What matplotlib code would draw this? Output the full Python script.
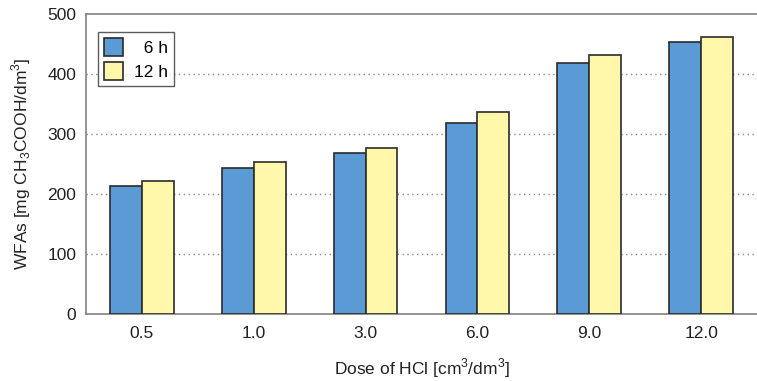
import matplotlib
matplotlib.use('Agg')
import matplotlib.pyplot as plt
import numpy as np

plt.rcParams['font.family'] = ['Liberation Sans', 'DejaVu Sans']
plt.rcParams['mathtext.fontset'] = 'custom'
plt.rcParams['mathtext.rm'] = 'Liberation Sans'

doses = ['0.5', '1.0', '3.0', '6.0', '9.0', '12.0']
wfa_6h = [213, 243, 269, 319, 418, 454]
wfa_12h = [222, 254, 276, 337, 431, 461]

fig = plt.figure(figsize=(7.57, 3.81), dpi=100)
ax = fig.add_axes([86/757, 67/381, 671/757, 300/381])

x = np.arange(len(doses))
w = 0.285
ax.bar(x - w/2, wfa_6h, w, color='#5b9bd5', edgecolor='#2b2b2b', linewidth=1.2, label='  6 h', zorder=3)
ax.bar(x + w/2, wfa_12h, w, color='#fff8ab', edgecolor='#2b2b2b', linewidth=1.2, label='12 h', zorder=3)

ax.set_xlim(-0.5, 5.5)
ax.set_ylim(0, 500)
ax.set_yticks([0, 100, 200, 300, 400, 500])
ax.set_xticks(x)
ax.set_xticklabels(doses)
ax.tick_params(length=0, labelsize=12.5, colors='#222222', pad=7)
ax.tick_params(axis='x', pad=9)

for y in [100, 200, 300, 400]:
    ax.axhline(y, color='#888888', linestyle=(0, (1, 2.5)), linewidth=1, zorder=1)

for s in ['left', 'top', 'bottom']:
    ax.spines[s].set_color('#808080')
    ax.spines[s].set_linewidth(1.2)
ax.spines['right'].set_visible(False)

ax.set_xlabel('Dose of HCl [cm$^3$/dm$^3$]', fontsize=12.5, color='#222222', labelpad=11)
ax.set_ylabel('WFAs [mg CH$_3$COOH/dm$^3$]', fontsize=12.5, color='#222222', labelpad=10)

leg = ax.legend(loc='upper left', bbox_to_anchor=(0.018, 0.94), borderaxespad=0,
                fontsize=12.5, frameon=True, fancybox=False, edgecolor='#333333',
                handlelength=1.1, handleheight=1.2, handletextpad=0.6,
                borderpad=0.35, labelspacing=0.35)
leg.get_frame().set_linewidth(1)

fig.savefig('out.png', dpi=100)
